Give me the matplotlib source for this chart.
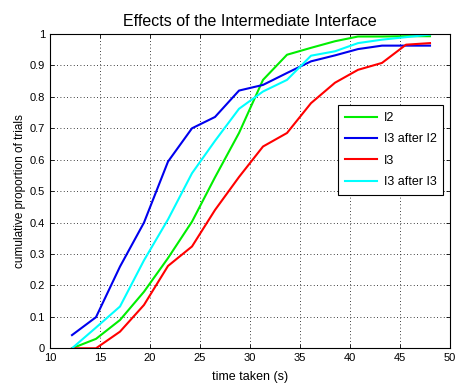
import matplotlib
matplotlib.use("Agg")
import matplotlib.pyplot as plt

plt.rcParams['font.family'] = ['Liberation Sans', 'DejaVu Sans']

times = [12.2, 14.6, 17.0, 19.4, 21.8, 24.2, 26.5, 28.9, 31.3, 33.7, 36.1, 38.5, 40.8, 43.2, 45.6, 48.0]

i2 = [0.0, 0.03, 0.09, 0.18, 0.287, 0.403, 0.544, 0.685, 0.854, 0.934, 0.956, 0.977, 0.992, 0.992, 0.993, 0.993]
i3_after_i2 = [0.042, 0.099, 0.26, 0.40, 0.594, 0.70, 0.736, 0.82, 0.838, 0.876, 0.913, 0.932, 0.952, 0.963, 0.963, 0.963]
i3 = [0.0, 0.0, 0.053, 0.138, 0.262, 0.324, 0.44, 0.545, 0.642, 0.685, 0.78, 0.845, 0.886, 0.908, 0.966, 0.971]
i3_after_i3 = [0.0, 0.066, 0.133, 0.28, 0.41, 0.557, 0.66, 0.762, 0.817, 0.854, 0.931, 0.945, 0.971, 0.982, 0.99, 0.998]

labels = ['I2', 'I3 after I2', 'I3', 'I3 after I3']
colors = ['#00ee00', '#0000ee', '#ff0000', '#00ffff']
xticks = [10, 15, 20, 25, 30, 35, 40, 45, 50]
yticks = [0, 0.1, 0.2, 0.3, 0.4, 0.5, 0.6, 0.7, 0.8, 0.9, 1]
yticklabels = ['0', '0.1', '0.2', '0.3', '0.4', '0.5', '0.6', '0.7', '0.8', '0.9', '1']

fig = plt.figure(figsize=(4.55, 3.89), dpi=100)
ax = fig.add_axes([50/455, 1 - 348.3/389, 400/455, (348.3 - 34)/389])

for series, lab, col in zip([i2, i3_after_i2, i3, i3_after_i3], labels, colors):
    ax.plot(times, series, color=col, lw=1.5, label=lab)

ax.set_xlim(10, 50)
ax.set_ylim(0, 1)
ax.set_xticks(xticks)
ax.set_yticks(yticks)
ax.set_yticklabels(yticklabels)
ax.grid(True, linestyle=(0, (1, 3)), color='black', linewidth=0.6)
ax.tick_params(direction='in', top=True, right=True, labelsize=8, length=3, width=0.6)
for s in ax.spines.values():
    s.set_linewidth(0.8)

ax.set_xlabel('time taken (s)', fontsize=9, labelpad=6)
ax.set_ylabel('cumulative proportion of trials', fontsize=8.5, labelpad=3)
ax.set_title('Effects of the Intermediate Interface', fontsize=11.5, pad=6)

leg = ax.legend(loc='upper left', bbox_to_anchor=((338 - 50)/400, (348.3 - 105)/314.3),
                borderaxespad=0, fontsize=9, fancybox=False, framealpha=1, edgecolor='black',
                handlelength=2.6, borderpad=0.55, labelspacing=0.75, handletextpad=0.5)
leg.get_frame().set_linewidth(0.8)

fig.savefig('out.png', dpi=100)
